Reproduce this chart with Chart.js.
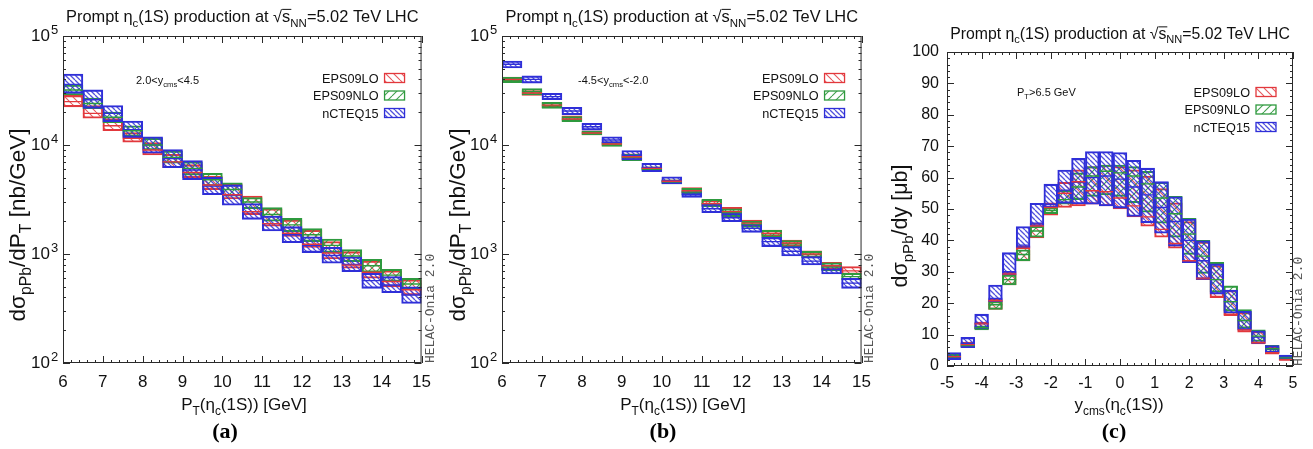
<!DOCTYPE html>
<html>
<head>
<meta charset="utf-8">
<script src="https://cdn.jsdelivr.net/npm/chart.js@4.4.1/dist/chart.umd.min.js"></script>
<style>
  body { margin: 0; background: #fff; }
  #wrap { position: relative; width: 1313px; height: 449px; }
  canvas { position: absolute; top: 0; }
</style>
</head>
<body>
<div id="wrap">
  <canvas id="chartA" width="440" height="449" style="left:0"></canvas>
  <canvas id="chartB" width="440" height="449" style="left:440px"></canvas>
  <canvas id="chartC" width="433" height="449" style="left:880px"></canvas>
</div>
<script>
const seriesNames = ['EPS09LO', 'EPS09NLO', 'nCTEQ15'];

const ptEdges = [6, 6.5, 7, 7.5, 8, 8.5, 9, 9.5, 10, 10.5, 11, 11.5, 12, 12.5, 13, 13.5, 14, 14.5, 15];
const ptTicks = [6, 7, 8, 9, 10, 11, 12, 13, 14, 15];
const logTicks = [100, 1000, 10000, 100000];

const yEdges = [-5, -4.6, -4.2, -3.8, -3.4, -3, -2.6, -2.2, -1.8, -1.4, -1, -0.6, -0.2, 0.2, 0.6, 1, 1.4, 1.8, 2.2, 2.6, 3, 3.4, 3.8, 4.2, 4.6, 5];
const yTicks = [-5, -4, -3, -2, -1, 0, 1, 2, 3, 4, 5];
const linTicks = [0, 10, 20, 30, 40, 50, 60, 70, 80, 90, 100];

// (a) 2.0 < y_cms < 4.5, nb/GeV
const aLOLow  = [22400, 17600, 13500, 10600, 8100, 6200, 5000, 3900, 3200, 2300, 1800, 1450, 1150, 900, 740, 600, 500, 420];
const aLOHigh = [28500, 23000, 17500, 13000, 10500, 8200, 6600, 5200, 4400, 3400, 2600, 2050, 1650, 1300, 1050, 860, 700, 580];
const aLOCen  = [25000, 19500, 15000, 11500, 9000, 7000, 5600, 4300, 3500, 2450, 1900, 1550, 1230, 1020, 790, 680, 560, 470];
const aNLOLow  = [28800, 21500, 16000, 12000, 9000, 6800, 5300, 4200, 3400, 2600, 2000, 1600, 1300, 1030, 850, 680, 560, 470];
const aNLOHigh = [35500, 27000, 20000, 15000, 11500, 8800, 7000, 5500, 4500, 3300, 2660, 2120, 1710, 1370, 1100, 893, 724, 599];
const aNLOCen  = [32000, 24000, 18000, 13500, 10000, 7700, 6100, 4800, 3900, 3000, 2300, 1850, 1500, 1200, 960, 780, 640, 530];
const aCTLow  = [29800, 21700, 16400, 11700, 8400, 6200, 4800, 3500, 2800, 2080, 1630, 1270, 1030, 822, 688, 484, 441, 352];
const aCTHigh = [44800, 32000, 23000, 16600, 11900, 9100, 7200, 5050, 4300, 2900, 2230, 1780, 1440, 1150, 944, 665, 620, 501];
const aCTCen  = [36000, 26000, 19500, 13800, 10000, 7500, 5900, 4200, 3450, 2450, 1900, 1500, 1200, 970, 800, 570, 520, 420];

// (b) -4.5 < y_cms < -2.0, nb/GeV
const bLOLow  = [38000, 28500, 22000, 16500, 12400, 9800, 7300, 5900, 4500, 3600, 2750, 2250, 1800, 1450, 1180, 930, 720, 650];
const bLOHigh = [42000, 31500, 24500, 18500, 13500, 10700, 8300, 6300, 4800, 4060, 3100, 2680, 2050, 1660, 1340, 1070, 839, 766];
const bLOCen  = [40000, 30000, 23200, 17300, 12900, 10200, 7800, 6100, 4650, 3800, 2900, 2450, 1920, 1550, 1260, 1000, 780, 700];
const bNLOLow  = [37300, 28800, 21700, 16400, 12400, 9700, 7200, 5800, 4400, 3500, 2700, 2200, 1750, 1420, 1150, 920, 700, 577];
const bNLOHigh = [41800, 33000, 24600, 18200, 13400, 10700, 8200, 6300, 4800, 4000, 3180, 2600, 2000, 1650, 1330, 1060, 830, 665];
const bNLOCen  = [39500, 30800, 23000, 17200, 12900, 10200, 7700, 6000, 4600, 3700, 2900, 2400, 1880, 1530, 1240, 990, 760, 620];
const bCTLow  = [51000, 37000, 26000, 19000, 13700, 10400, 7300, 5700, 4400, 3310, 2390, 1980, 1580, 1170, 959, 793, 656, 484];
const bCTHigh = [59000, 43000, 29800, 22200, 15800, 11900, 8900, 6800, 5100, 3730, 2880, 2360, 1880, 1420, 1170, 946, 793, 598];
const bCTCen  = [55000, 40000, 27800, 20500, 14700, 11100, 8000, 6200, 4700, 3500, 2600, 2150, 1720, 1300, 1060, 860, 720, 540];

// (c) P_T > 6.5 GeV, microbarn
const cLOLow  = [2.2, 6.0, 11.8, 18.0, 25.8, 33.5, 40.8, 48.0, 50.5, 51.0, 51.5, 51.0, 50.0, 47.5, 44.5, 41.0, 37.5, 33.0, 27.5, 21.8, 16.0, 10.8, 7.0, 3.8, 1.8];
const cLOHigh = [3.6, 7.6, 14.0, 21.3, 30.0, 38.3, 45.5, 52.0, 58.5, 62.5, 63.5, 64.0, 63.5, 62.5, 60.5, 56.5, 52.0, 46.0, 39.5, 32.0, 24.0, 17.0, 11.0, 6.0, 3.2];
const cLOCen  = [3.0, 6.8, 13.4, 20.8, 29.3, 37.5, 44.6, 50.5, 55.0, 58.7, 55.8, 55.5, 53.5, 51.0, 47.5, 43.5, 39.0, 33.5, 28.0, 22.0, 16.5, 11.5, 7.5, 4.2, 2.0];
const cNLOLow  = [2.3, 6.0, 11.5, 18.0, 25.8, 33.5, 41.0, 48.5, 51.5, 53.0, 54.0, 54.5, 54.0, 52.0, 49.0, 45.5, 41.0, 35.5, 29.5, 23.5, 17.5, 12.0, 7.8, 4.3, 2.0];
const cNLOHigh = [3.7, 7.3, 12.8, 20.5, 29.0, 37.0, 44.5, 50.5, 56.0, 61.5, 63.5, 64.0, 64.0, 63.5, 62.0, 58.5, 54.0, 47.0, 40.0, 33.0, 25.5, 18.0, 11.5, 6.6, 3.3];
const cNLOCen  = [3.0, 6.5, 12.2, 19.5, 27.5, 35.5, 43.0, 49.5, 53.0, 57.0, 60.5, 62.0, 61.5, 60.5, 58.0, 53.5, 48.5, 42.0, 35.0, 27.5, 20.5, 14.5, 9.5, 5.5, 2.6];
const cCTLow  = [2.0, 5.8, 11.8, 20.5, 29.0, 37.5, 44.5, 50.5, 51.8, 51.6, 51.5, 51.0, 50.3, 47.6, 45.6, 42.3, 38.2, 32.9, 27.6, 22.9, 16.8, 11.5, 7.2, 4.2, 1.9];
const cCTHigh = [4.3, 9.1, 16.5, 25.8, 36.1, 44.4, 51.8, 57.9, 62.4, 66.1, 68.3, 68.3, 68.0, 65.5, 63.0, 58.7, 53.9, 46.8, 39.9, 32.5, 24.2, 17.4, 11.2, 6.5, 3.5];
const cCTCen  = [3.0, 7.2, 13.5, 21.5, 30.0, 38.5, 45.5, 51.5, 56.0, 58.5, 60.0, 60.5, 59.5, 57.0, 54.5, 50.5, 46.0, 40.0, 33.5, 27.5, 20.5, 14.5, 9.2, 5.3, 2.7];

const FONT = '"Liberation Sans", Arial, Helvetica, sans-serif';
const MONO = '"Liberation Mono", "DejaVu Sans Mono", monospace';
const SERIF = '"Liberation Serif", "Times New Roman", serif';

function hatch(color, step, dir, lw) {
  const c = document.createElement('canvas');
  c.width = c.height = step;
  const g = c.getContext('2d');
  g.strokeStyle = color;
  g.lineWidth = lw;
  g.beginPath();
  for (let k = -step; k <= step; k += step) {
    if (dir === '\\') { g.moveTo(k, 0); g.lineTo(k + step, step); }
    else { g.moveTo(k, step); g.lineTo(k + step, 0); }
  }
  g.stroke();
  return g.createPattern(c, 'repeat');
}

const styles = [
  { border: '#e2383c', fill: hatch('rgba(226,70,75,0.9)', 8, '\\', 1.1), order: 3 },
  { border: '#2e9a3e', fill: hatch('rgba(45,150,60,0.9)', 8, '/', 1.1), order: 2 },
  { border: '#2f2fd8', fill: hatch('rgba(50,50,215,0.85)', 5, '\\', 1.3), order: 1 }
];

// text with sub-scripts and an over-bar
function drawRich(ctx, parts, x, y, size, align) {
  const small = size * 0.7;
  const widths = parts.map(([t, m]) => {
    ctx.font = (m === 'sub' ? small : size) + 'px ' + FONT;
    return ctx.measureText(t).width;
  });
  const total = widths.reduce((s, w) => s + w, 0);
  let cx = align === 'center' ? x - total / 2 : align === 'right' ? x - total : x;
  ctx.textAlign = 'left';
  ctx.textBaseline = 'alphabetic';
  parts.forEach(([t, m], i) => {
    ctx.font = (m === 'sub' ? small : size) + 'px ' + FONT;
    ctx.fillText(t, cx, m === 'sub' ? y + size * 0.28 : y);
    if (m === 'over') ctx.fillRect(cx, y - size * 0.8, widths[i] + 1, 1);
    cx += widths[i];
  });
}

function buildDatasets(edges, bands) {
  const centers = edges.slice(0, -1).map((e, i) => (e + edges[i + 1]) / 2);
  const sets = [];
  bands.forEach((b, k) => {
    const st = styles[k];
    sets.push({
      type: 'bar',
      label: seriesNames[k],
      data: centers.map((c, i) => ({ x: c, y: [b.low[i], b.high[i]] })),
      backgroundColor: st.fill,
      borderColor: st.border,
      borderWidth: 1.4,
      borderSkipped: false,
      grouped: false,
      barPercentage: 1,
      categoryPercentage: 1,
      order: st.order
    });
  });
  bands.forEach((b, k) => {
    const pts = [];
    b.cen.forEach((v, i) => {
      pts.push({ x: edges[i], y: v }, { x: edges[i + 1], y: v }, { x: edges[i + 1], y: null });
    });
    sets.push({
      type: 'line',
      label: seriesNames[k] + ' central',
      data: pts,
      borderColor: styles[k].border,
      borderWidth: 1.4,
      pointRadius: 0,
      spanGaps: false,
      order: 0
    });
  });
  return sets;
}

const framePlugin = {
  id: 'frame',
  afterDatasetsDraw(chart, args, o) {
    const { ctx, chartArea: a, scales: { x, y } } = chart;
    ctx.save();
    ctx.strokeStyle = '#2a2a2a';
    ctx.lineWidth = 1;
    ctx.beginPath();
    const hTick = (v, len) => {
      const px = Math.round(x.getPixelForValue(v)) + 0.5;
      ctx.moveTo(px, a.bottom); ctx.lineTo(px, a.bottom - len);
      ctx.moveTo(px, a.top); ctx.lineTo(px, a.top + len);
    };
    const vTick = (v, len) => {
      const py = Math.round(y.getPixelForValue(v)) + 0.5;
      ctx.moveTo(a.left, py); ctx.lineTo(a.left + len, py);
      ctx.moveTo(a.right, py); ctx.lineTo(a.right - len, py);
    };
    for (let v = x.min; v <= x.max + 1e-9; v += o.xMinor) hTick(v, 3);
    o.xMajor.forEach(v => hTick(v, 7));
    if (o.log) {
      for (let d = 100; d < y.max; d *= 10) {
        for (let m = 2; m <= 9; m++) vTick(d * m, 3);
      }
    } else {
      for (let v = y.min; v <= y.max + 1e-9; v += o.yMinor) vTick(v, 3);
    }
    o.yMajor.forEach(v => vTick(v, 7));
    ctx.stroke();
    ctx.strokeRect(a.left + 0.5, a.top + 0.5, a.right - a.left - 1, a.bottom - a.top - 1);

    // exponents of the log tick labels
    if (o.log) {
      ctx.fillStyle = '#111';
      ctx.font = '13px ' + FONT;
      ctx.textAlign = 'left';
      ctx.textBaseline = 'alphabetic';
      y.ticks.forEach(t => {
        ctx.fillText(String(Math.round(Math.log10(t.value))), a.left - o.expDX, y.getPixelForValue(t.value) - 2);
      });
    }
    ctx.restore();
  }
};

const textPlugin = {
  id: 'texts',
  afterDraw(chart, args, o) {
    const { ctx, chartArea: a } = chart;
    const mid = (a.left + a.right) / 2;
    ctx.save();
    ctx.fillStyle = '#111';
    drawRich(ctx, o.title, mid, o.titleY, o.titleSize, 'center');
    drawRich(ctx, o.xTitle, o.xTitleX, 410, 17, 'center');
    ctx.save();
    ctx.translate(o.yTitleX, o.yTitleY);
    ctx.rotate(-Math.PI / 2);
    drawRich(ctx, o.yTitle, 0, 0, o.yTitleSize, 'center');
    ctx.restore();
    drawRich(ctx, o.note, o.noteX, o.noteY, 11, 'left');

    // legend: label text on the left, hatched box on the right
    const bars = chart.data.datasets.filter(d => d.type === 'bar');
    bars.forEach((d, i) => {
      const ry = o.legendY + i * 17.5;
      ctx.fillStyle = '#111';
      drawRich(ctx, [[d.label, '']], a.right - 43, ry + 4.6, 12.7, 'right');
      ctx.fillStyle = d.backgroundColor;
      ctx.fillRect(a.right - 37, ry - 4.5, 20, 9);
      ctx.strokeStyle = d.borderColor;
      ctx.lineWidth = 1.3;
      ctx.strokeRect(a.right - 37, ry - 4.5, 20, 9);
    });

    ctx.save();
    ctx.fillStyle = '#555';
    ctx.font = '13px ' + MONO;
    ctx.translate(a.right + o.tagDX, a.bottom);
    ctx.rotate(-Math.PI / 2);
    ctx.textAlign = 'left';
    ctx.textBaseline = 'alphabetic';
    ctx.fillText('HELAC-Onia 2.0', 0, 0);
    ctx.restore();

    ctx.fillStyle = '#000';
    ctx.font = 'bold 22px ' + SERIF;
    ctx.textAlign = 'center';
    ctx.textBaseline = 'alphabetic';
    ctx.fillText(o.panel, o.panelX, 438);
    ctx.restore();
  }
};

const titleParts = [['Prompt η', ''], ['c', 'sub'], ['(1S) production at ', ''], ['√', ''], ['s', 'over'], ['NN', 'sub'], ['=5.02 TeV LHC', '']];
const ptTitle = [['P', ''], ['T', 'sub'], ['(η', ''], ['c', 'sub'], ['(1S)) [GeV]', '']];
const ptYTitle = [['dσ', ''], ['pPb', 'sub'], ['/dP', ''], ['T', 'sub'], [' [nb/GeV]', '']];

function makePanel(id, p) {
  new Chart(document.getElementById(id), {
    type: 'bar',
    data: { datasets: buildDatasets(p.edges, p.bands) },
    plugins: [framePlugin, textPlugin],
    options: {
      responsive: false,
      animation: false,
      events: [],
      layout: { padding: p.pad },
      plugins: {
        legend: { display: false },
        tooltip: { enabled: false },
        frame: p.frame,
        texts: p.texts
      },
      scales: {
        x: {
          type: 'linear',
          min: p.edges[0],
          max: p.edges[p.edges.length - 1],
          offset: false,
          grid: { display: false, drawTicks: false },
          border: { display: false },
          ticks: { font: { family: FONT, size: p.tickSize }, color: '#111', padding: p.xPad, maxRotation: 0, autoSkip: false, callback: v => String(v) },
          afterBuildTicks: s => { s.ticks = p.xTicks.map(v => ({ value: v })); },
          afterFit: s => { s.height = 30; }
        },
        y: {
          type: p.log ? 'logarithmic' : 'linear',
          min: p.yTicks[0],
          max: p.yTicks[p.yTicks.length - 1],
          grid: { display: false, drawTicks: false },
          border: { display: false },
          ticks: {
            font: { family: FONT, size: p.tickSize }, color: '#111', padding: p.yPad, autoSkip: false,
            callback: v => p.log ? '10' : String(v)
          },
          afterBuildTicks: s => { s.ticks = p.yTicks.map(v => ({ value: v })); },
          afterFit: s => { s.width = p.yWidth; }
        }
      }
    }
  });
}

makePanel('chartA', {
  edges: ptEdges, xTicks: ptTicks, yTicks: logTicks, log: true, tickSize: 17,
  bands: [
    { low: aLOLow, high: aLOHigh, cen: aLOCen },
    { low: aNLOLow, high: aNLOHigh, cen: aNLOCen },
    { low: aCTLow, high: aCTHigh, cen: aCTCen }
  ],
  pad: { left: 0, top: 36, right: 15, bottom: 56 }, yWidth: 63, xPad: 9, yPad: 13,
  frame: { xMajor: ptTicks, xMinor: 0.2, yMajor: logTicks, log: true, expDX: 12 },
  texts: {
    title: titleParts, titleY: 22, titleSize: 16.4, xTitle: ptTitle, xTitleX: 244,
    yTitle: ptYTitle, yTitleSize: 22.5, yTitleX: 25, yTitleY: 225,
    note: [['2.0<y', ''], ['cms', 'sub'], ['<4.5', '']], noteX: 136, noteY: 84,
    legendY: 78, tagDX: 12, panel: '(a)', panelX: 225
  }
});

makePanel('chartB', {
  edges: ptEdges, xTicks: ptTicks, yTicks: logTicks, log: true, tickSize: 17,
  bands: [
    { low: bLOLow, high: bLOHigh, cen: bLOCen },
    { low: bNLOLow, high: bNLOHigh, cen: bNLOCen },
    { low: bCTLow, high: bCTHigh, cen: bCTCen }
  ],
  pad: { left: 0, top: 36, right: 16, bottom: 56 }, yWidth: 62, xPad: 9, yPad: 13,
  frame: { xMajor: ptTicks, xMinor: 0.2, yMajor: logTicks, log: true, expDX: 12 },
  texts: {
    title: titleParts, titleY: 22, titleSize: 16.4, xTitle: ptTitle, xTitleX: 243,
    yTitle: ptYTitle, yTitleSize: 22.5, yTitleX: 25, yTitleY: 225,
    note: [['-4.5<y', ''], ['cms', 'sub'], ['<-2.0', '']], noteX: 138, noteY: 84,
    legendY: 78, tagDX: 11, panel: '(b)', panelX: 223
  }
});

makePanel('chartC', {
  edges: yEdges, xTicks: yTicks, yTicks: linTicks, log: false, tickSize: 16,
  bands: [
    { low: cLOLow, high: cLOHigh, cen: cLOCen },
    { low: cNLOLow, high: cNLOHigh, cen: cNLOCen },
    { low: cCTLow, high: cCTHigh, cen: cCTCen }
  ],
  pad: { left: 0, top: 52, right: 20, bottom: 53 }, yWidth: 67, xPad: 8, yPad: 8,
  frame: { xMajor: yTicks, xMinor: 0.2, yMajor: linTicks, yMinor: 2, log: false },
  texts: {
    title: titleParts, titleY: 39, titleSize: 15.8,
    xTitle: [['y', ''], ['cms', 'sub'], ['(η', ''], ['c', 'sub'], ['(1S))', '']], xTitleX: 239,
    yTitle: [['dσ', ''], ['pPb', 'sub'], ['/dy [μb]', '']], yTitleSize: 21.5, yTitleX: 27, yTitleY: 226,
    note: [['P', ''], ['T', 'sub'], ['>6.5 GeV', '']], noteX: 137, noteY: 96,
    legendY: 92, tagDX: 9, panel: '(c)', panelX: 234
  }
});
</script>
</body>
</html>
